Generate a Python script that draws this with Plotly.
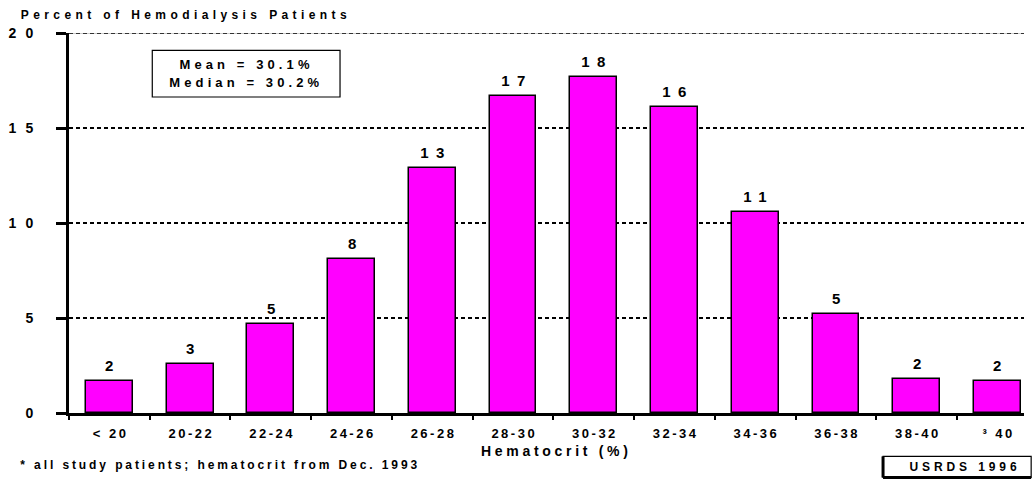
import json
import plotly.graph_objects as go

# Hematocrit distribution among hemodialysis patients
categories = ["< 20", "20-22", "22-24", "24-26", "26-28", "28-30",
              "30-32", "32-34", "34-36", "36-38", "38-40", "³ 40"]
percent = [1.7, 2.6, 4.7, 8.1, 12.9, 16.7, 17.7, 16.1, 10.6, 5.2, 1.8, 1.7]
y_ticks = [0, 5, 10, 15, 20]

y_title = "Percent of Hemodialysis Patients"
x_title = "Hematocrit (%)"
stats_lines = ["Mean = 30.1%", "Median = 30.2%"]
footnote = "* all study patients; hematocrit from Dec. 1993"
source = "USRDS 1996"

FONT = "Liberation Sans, Arial, Helvetica, sans-serif"
GRID_DASH = "4px,3px"


def bold(size):
    return dict(family=FONT, size=size, color="black", weight=700)


fig = go.Figure(
    go.Bar(
        x=categories,
        y=percent,
        width=0.58,
        marker=dict(color="#FF00FF", line=dict(color="black", width=1.5)),
        hoverinfo="x+y",
    )
)

annotations = []
tracking = []  # letter spacing (px) for each annotation, same order

# value labels above the bars
for cat, val in zip(categories, percent):
    annotations.append(dict(x=cat, y=val, xref="x", yref="y", text=str(round(val)),
                            showarrow=False, yanchor="bottom", yshift=5, font=bold(15)))
    tracking.append(7.5)

# y axis caption, top left
annotations.append(dict(x=0.1206, y=1.048, xref="paper", yref="paper", text=y_title,
                        showarrow=False, xanchor="center", yanchor="middle", font=bold(12)))
tracking.append(4.4)

# mean / median
for txt, yy in zip(stats_lines, [0.9166, 0.869]):
    annotations.append(dict(x=0.1838, y=yy, xref="paper", yref="paper", text=txt,
                            showarrow=False, xanchor="center", yanchor="middle", font=bold(13)))
    tracking.append(4.1)

# x axis caption
annotations.append(dict(x=0.5089, y=-0.1005, xref="paper", yref="paper", text=x_title,
                        showarrow=False, xanchor="center", yanchor="middle", font=bold(14)))
tracking.append(3.7)

# footnote
annotations.append(dict(x=0.1573, y=-0.136, xref="paper", yref="paper", text=footnote,
                        showarrow=False, xanchor="center", yanchor="middle", font=bold(12)))
tracking.append(2.9)

# source tag
annotations.append(dict(x=0.9365, y=-0.1413, xref="paper", yref="paper", text=source,
                        showarrow=False, xanchor="center", yanchor="middle", font=bold(12)))
tracking.append(3.9)

y_top = y_ticks[-1]
shapes = [
    # top gridline at the axis maximum (plotly omits it at the plot edge)
    dict(type="line", xref="paper", yref="y", x0=0, x1=1, y0=y_top, y1=y_top,
         line=dict(color="#9a9a9a", width=1), layer="below"),
    dict(type="line", xref="paper", yref="y", x0=0, x1=1, y0=y_top, y1=y_top,
         line=dict(color="black", width=1.5, dash=GRID_DASH)),
    # box around mean / median
    dict(type="rect", xref="paper", yref="paper", x0=0.0872, x1=0.2838, y0=0.8316, y1=0.9542,
         line=dict(color="black", width=1.2), fillcolor="white", layer="below"),
    # box around source tag, heavier left and bottom edges
    dict(type="rect", xref="paper", yref="paper", x0=0.8524, x1=1.0075, y0=-0.1698, y1=-0.1142,
         line=dict(color="black", width=1.2)),
    dict(type="line", xref="paper", yref="paper", x0=0.8524, x1=0.8524, y0=-0.1698, y1=-0.1142,
         line=dict(color="black", width=3)),
    dict(type="line", xref="paper", yref="paper", x0=0.8524, x1=1.0075, y0=-0.1698, y1=-0.1698,
         line=dict(color="black", width=3)),
]

fig.update_layout(
    width=1034,
    height=479,
    margin=dict(l=69, r=10, t=33, b=66),
    paper_bgcolor="white",
    plot_bgcolor="white",
    showlegend=False,
    bargap=0,
    annotations=annotations,
    shapes=shapes,
    font=dict(family=FONT, color="black"),
)

fig.update_xaxes(
    type="category",
    categoryorder="array",
    categoryarray=categories,
    range=[-0.5, 11.33],
    showline=True,
    linecolor="black",
    linewidth=3,
    ticks="outside",
    tickson="boundaries",
    ticklen=4,
    tickwidth=2,
    tickcolor="black",
    ticklabelstandoff=6,
    tickfont=bold(13),
    showgrid=False,
    zeroline=False,
)

fig.update_yaxes(
    range=[0, 20],
    tickvals=y_ticks,
    showline=True,
    linecolor="black",
    linewidth=3,
    ticks="outside",
    ticklen=10,
    tickwidth=3,
    tickcolor="black",
    ticklabelstandoff=20,
    tickfont=bold(14),
    showgrid=True,
    gridcolor="black",
    gridwidth=1.5,
    griddash=GRID_DASH,
    zeroline=False,
)

# letter spacing for the wide-tracked bold lettering
post_script = """
var gd = document.getElementById('{plot_id}');
function track(nodes, ls) {
  nodes.forEach(function(t) {
    t.style.letterSpacing = ls + 'px';
    var a = t.getAttribute('text-anchor');
    if (a === 'middle') { t.setAttribute('dx', ls / 2); }
    else if (a === 'end') { t.setAttribute('dx', ls); }
  });
}
track(gd.querySelectorAll('.xtick text'), 2.5);
track(gd.querySelectorAll('.ytick text'), 9);
var annLs = ANN_LS;
gd.querySelectorAll('g.annotation').forEach(function(g) {
  var i = parseInt(g.getAttribute('data-index'), 10);
  if (!isNaN(i) && annLs[i] !== undefined) { track(g.querySelectorAll('text'), annLs[i]); }
});
""".replace("ANN_LS", json.dumps(tracking))

fig.write_html("out.html", post_script=post_script, config=dict(displayModeBar=False))
